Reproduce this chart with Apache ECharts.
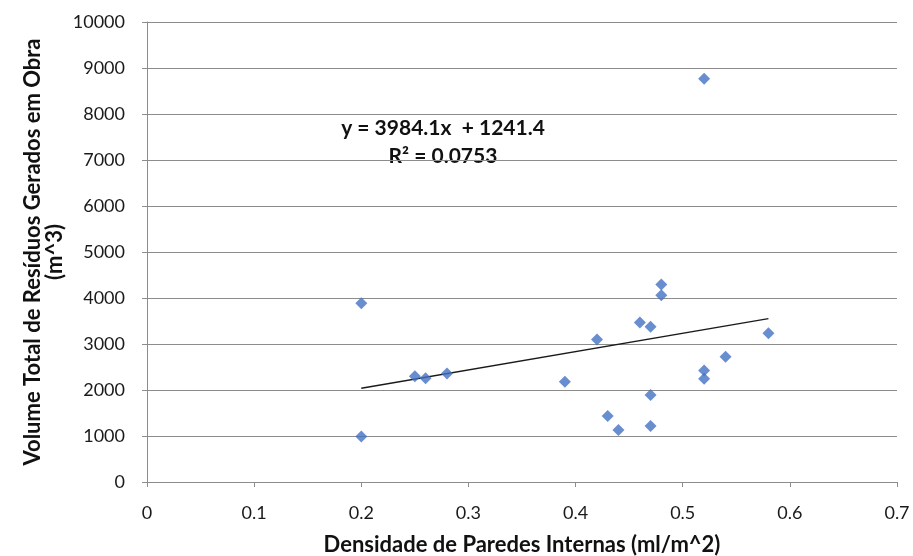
<!DOCTYPE html>
<html>
<head>
<meta charset="utf-8">
<script src="https://cdn.jsdelivr.net/npm/echarts@6/dist/echarts.min.js"></script>
<style>
  html, body { margin: 0; padding: 0; background: #fff; }
  #chart { width: 913px; height: 556px; }
</style>
</head>
<body>
<div id="chart"></div>
<script>
// Internal wall density (ml/m^2) vs. total construction waste volume (m^3)
const density = [0.20, 0.20, 0.25, 0.26, 0.28, 0.39, 0.42, 0.43, 0.44, 0.46,
                 0.47, 0.47, 0.47, 0.48, 0.48, 0.52, 0.52, 0.52, 0.54, 0.58];
const volume  = [3885, 990, 2300, 2258, 2360, 2180, 3098, 1434, 1130, 3466,
                 3373, 1889, 1217, 4291, 4059, 8766, 2425, 2245, 2722, 3234];

// Linear trendline coefficients as shown in the label
const slope = 3984.1;
const intercept = 1241.4;
const rSquared = 0.0753;
const trendRange = [0.20, 0.58];

const xTicks = [0, 0.1, 0.2, 0.3, 0.4, 0.5, 0.6, 0.7];
const yTicks = [0, 1000, 2000, 3000, 4000, 5000, 6000, 7000, 8000, 9000, 10000];

const points = density.map((x, i) => [x, volume[i]]);
const trend = trendRange.map(x => [x, slope * x + intercept]);

const font = 'Lato, "Open Sans", sans-serif';
const gridColor = '#8c8c8c';

const chart = echarts.init(document.getElementById('chart'));
chart.setOption({
  animation: false,
  grid: { left: 147, right: 16, top: 22, bottom: 74, containLabel: false, outerBoundsMode: 'none' },
  xAxis: {
    type: 'value',
    min: xTicks[0], max: xTicks[xTicks.length - 1], interval: 0.1,
    axisLine: { show: true, lineStyle: { color: gridColor, width: 1 } },
    axisTick: { show: true, length: 5, lineStyle: { color: gridColor } },
    splitLine: { show: false },
    axisLabel: { color: '#1a1a1a', fontFamily: font, fontSize: 18, margin: 22,
                 formatter: v => String(Math.round(v * 10) / 10) },
    name: 'Densidade de Paredes Internas (ml/m^2)',
    nameLocation: 'middle', nameGap: 52, nameMoveOverlap: false,
    nameTextStyle: { color: '#111', fontFamily: font, fontSize: 22, fontWeight: 'bold' }
  },
  yAxis: {
    type: 'value',
    min: yTicks[0], max: yTicks[yTicks.length - 1], interval: 1000,
    axisLine: { show: true, lineStyle: { color: gridColor, width: 1 } },
    axisTick: { show: true, length: 5, lineStyle: { color: gridColor } },
    splitLine: { show: true, lineStyle: { color: gridColor, width: 1.2 } },
    axisLabel: { color: '#1a1a1a', fontFamily: font, fontSize: 18, margin: 22,
                 formatter: v => String(v) },
    name: 'Volume Total de Resíduos Gerados em Obra\n(m^3)',
    nameLocation: 'middle', nameGap: 81, nameRotate: 90, nameMoveOverlap: false,
    nameTextStyle: { color: '#111', fontFamily: font, fontSize: 22, fontWeight: 'bold',
                     lineHeight: 22, align: 'center' }
  },
  series: [
    {
      type: 'scatter',
      data: points,
      symbol: 'diamond',
      symbolSize: 12,
      itemStyle: { color: '#4472c4' },
      z: 3
    },
    {
      type: 'line',
      data: trend,
      symbol: 'none',
      lineStyle: { color: '#1a1a1a', width: 1.3 },
      z: 2
    }
  ],
  graphic: [
    {
      type: 'text', x: 443, y: 128,
      style: { text: 'y = ' + slope + 'x  + ' + intercept, fontFamily: font,
               fontSize: 21, fontWeight: 'bold', fill: '#111',
               align: 'center', verticalAlign: 'middle' }
    },
    {
      type: 'text', x: 443, y: 156,
      style: { text: 'R² = ' + rSquared, fontFamily: font,
               fontSize: 21, fontWeight: 'bold', fill: '#111',
               align: 'center', verticalAlign: 'middle' }
    }
  ]
});
</script>
</body>
</html>
